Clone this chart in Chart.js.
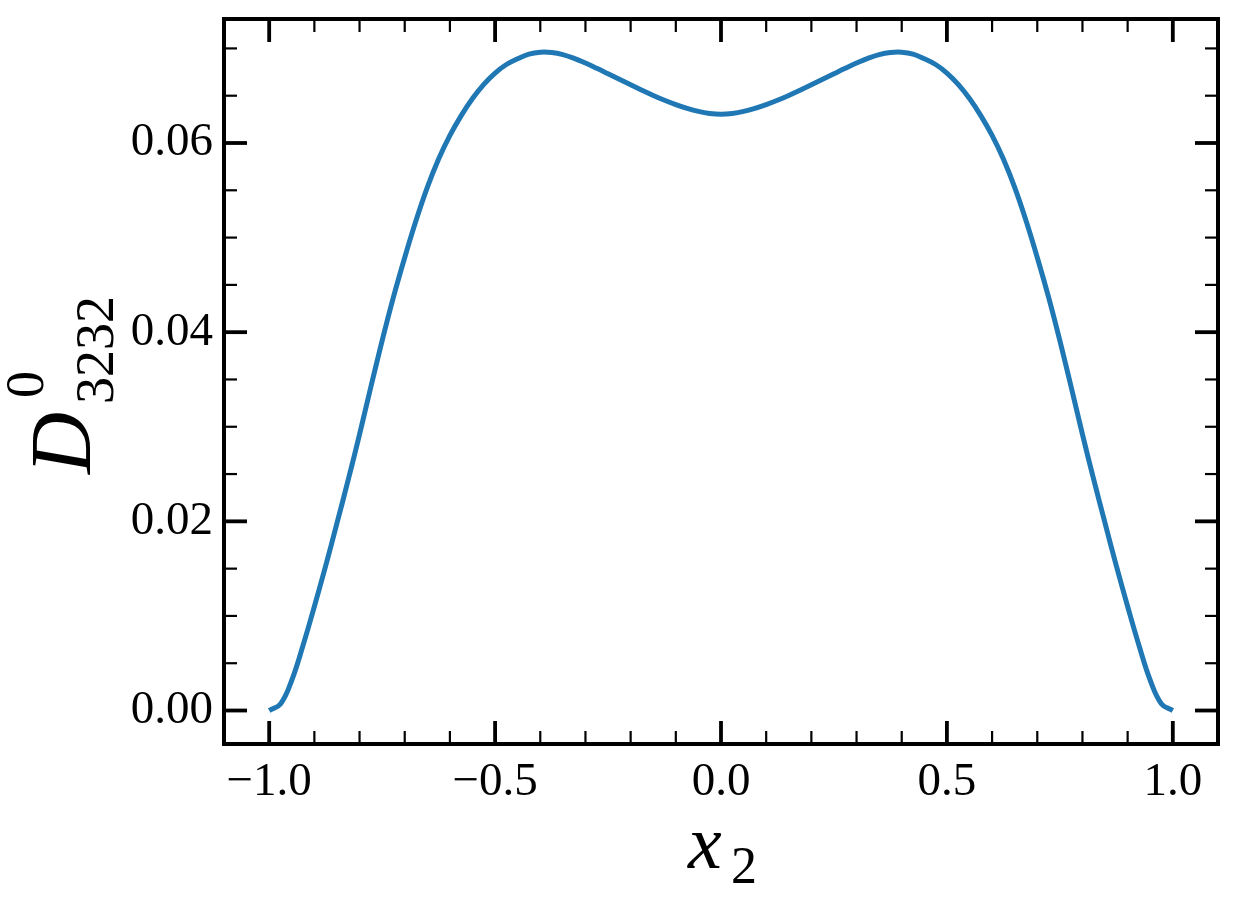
<!DOCTYPE html>
<html>
<head>
<meta charset="utf-8">
<script src="https://cdn.jsdelivr.net/npm/chart.js@4/dist/chart.umd.min.js"></script>
<style>
  html, body { margin: 0; padding: 0; background: #ffffff; }
  #wrap { width: 1237px; height: 908px; }
</style>
</head>
<body>
<div id="wrap"><canvas id="c" width="1237" height="908"></canvas></div>
<script>
// ---- data ----
const xValues = [-1.0, -0.975, -0.95, -0.925, -0.9, -0.875, -0.85, -0.825, -0.8, -0.775,
  -0.75, -0.725, -0.7, -0.675, -0.65, -0.625, -0.6, -0.575, -0.55, -0.525,
  -0.5, -0.475, -0.45, -0.425, -0.4, -0.375, -0.35, -0.325, -0.3, -0.275,
  -0.25, -0.225, -0.2, -0.175, -0.15, -0.125, -0.1, -0.075, -0.05, -0.025,
  0.0, 0.025, 0.05, 0.075, 0.1, 0.125, 0.15, 0.175, 0.2, 0.225,
  0.25, 0.275, 0.3, 0.325, 0.35, 0.375, 0.4, 0.425, 0.45, 0.475,
  0.5, 0.525, 0.55, 0.575, 0.6, 0.625, 0.65, 0.675, 0.7, 0.725,
  0.75, 0.775, 0.8, 0.825, 0.85, 0.875, 0.9, 0.925, 0.95, 0.975, 1.0];
const dValues = [0.0, 0.0007, 0.0032, 0.0069, 0.0110, 0.0153, 0.0198, 0.0244, 0.0292, 0.0342,
  0.0391, 0.0437, 0.0479, 0.0518, 0.0553, 0.0583, 0.0608, 0.0629, 0.0647, 0.0662,
  0.0674, 0.0683, 0.0689, 0.0694, 0.0696, 0.06957, 0.06935, 0.06895, 0.06845, 0.0679,
  0.06732, 0.06673, 0.06615, 0.06558, 0.06503, 0.06452, 0.06406, 0.06366, 0.06334, 0.06313,
  0.06305, 0.06313, 0.06334, 0.06366, 0.06406, 0.06452, 0.06503, 0.06558, 0.06615, 0.06673,
  0.06732, 0.0679, 0.06845, 0.06895, 0.06935, 0.06957, 0.0696, 0.0694, 0.0689, 0.0683,
  0.0674, 0.0662, 0.0647, 0.0629, 0.0608, 0.0583, 0.0553, 0.0518, 0.0479, 0.0437,
  0.0391, 0.0342, 0.0292, 0.0244, 0.0198, 0.0153, 0.0110, 0.0069, 0.0032, 0.0007, 0.0];

const xMajorTicks = [-1.0, -0.5, 0.0, 0.5, 1.0];
const xMinorTicks = [-0.9, -0.8, -0.7, -0.6, -0.4, -0.3, -0.2, -0.1, 0.1, 0.2, 0.3, 0.4, 0.6, 0.7, 0.8, 0.9];
const yMajorTicks = [0.0, 0.02, 0.04, 0.06];
const yMinorTicks = [0.005, 0.01, 0.015, 0.025, 0.03, 0.035, 0.045, 0.05, 0.055, 0.065, 0.07];
const xRange = [-1.1, 1.1];
const yRange = [-0.00354, 0.07311];

const points = xValues.map((x, i) => ({ x: x, y: dValues[i] }));

const SERIF = '"Liberation Serif", "DejaVu Serif", serif';

const framePlugin = {
  id: 'frameTicks',
  afterDatasetsDraw(chart) {
    const ctx = chart.ctx;
    const a = chart.chartArea;
    const xs = chart.scales.x, ys = chart.scales.y;
    ctx.save();
    ctx.strokeStyle = '#000';
    ctx.lineCap = 'butt';
    const majL = 23, minL = 13;
    const drawX = (vals, len, w) => {
      ctx.lineWidth = w;
      vals.forEach(v => {
        const p = xs.getPixelForValue(v);
        ctx.beginPath(); ctx.moveTo(p, a.bottom); ctx.lineTo(p, a.bottom - len); ctx.stroke();
        ctx.beginPath(); ctx.moveTo(p, a.top); ctx.lineTo(p, a.top + len); ctx.stroke();
      });
    };
    const drawY = (vals, len, w) => {
      ctx.lineWidth = w;
      vals.forEach(v => {
        const p = ys.getPixelForValue(v);
        ctx.beginPath(); ctx.moveTo(a.left, p); ctx.lineTo(a.left + len, p); ctx.stroke();
        ctx.beginPath(); ctx.moveTo(a.right, p); ctx.lineTo(a.right - len, p); ctx.stroke();
      });
    };
    drawX(xMinorTicks, minL, 2.2);
    drawY(yMinorTicks, minL, 2.2);
    drawX(xMajorTicks, majL, 3.8);
    drawY(yMajorTicks, majL, 3.8);
    ctx.lineWidth = 4;
    ctx.lineJoin = 'miter';
    ctx.strokeRect(a.left, a.top, a.right - a.left, a.bottom - a.top);

    // x axis title: x_2
    ctx.fillStyle = '#000';
    ctx.textAlign = 'left';
    ctx.textBaseline = 'alphabetic';
    ctx.font = 'italic 76px ' + SERIF;
    ctx.fillText('x', 688, 868);
    ctx.font = '52px ' + SERIF;
    ctx.fillText('2', 731, 883);

    // y axis title: D^0_{3232} rotated
    ctx.save();
    ctx.translate(90, 474);
    ctx.rotate(-Math.PI / 2);
    ctx.font = 'italic 86px ' + SERIF;
    ctx.fillText('D', 0, 0);
    ctx.font = '54px ' + SERIF;
    ctx.fillText('0', 76, -47);
    ctx.fillText('3232', 70, 23);
    ctx.restore();
    ctx.restore();
  }
};

new Chart(document.getElementById('c'), {
  type: 'line',
  data: {
    datasets: [{
      data: points,
      borderColor: '#1f77b4',
      borderWidth: 5,
      pointRadius: 0,
      fill: false,
      tension: 0.4,
      borderCapStyle: 'butt'
    }]
  },
  options: {
    responsive: false,
    animation: false,
    devicePixelRatio: 1,
    layout: { padding: { top: 19, right: 19, left: 0, bottom: 0 } },
    plugins: { legend: { display: false }, tooltip: { enabled: false } },
    scales: {
      x: {
        type: 'linear',
        min: xRange[0], max: xRange[1],
        afterFit(s) { s.height = 164; s.paddingLeft = 0; s.paddingRight = 0; },
        afterBuildTicks(s) { s.ticks = xMajorTicks.map(v => ({ value: v })); },
        grid: { display: false, drawTicks: false },
        border: { display: false },
        ticks: {
          color: '#000',
          font: { family: SERIF, size: 47 },
          padding: 10,
          maxRotation: 0,
          autoSkip: false,
          callback: v => v.toFixed(1).replace('-', '\u2212')
        }
      },
      y: {
        type: 'linear',
        min: yRange[0], max: yRange[1],
        afterFit(s) { s.width = 224; s.paddingTop = 0; s.paddingBottom = 0; },
        afterBuildTicks(s) { s.ticks = yMajorTicks.map(v => ({ value: v })); },
        grid: { display: false, drawTicks: false },
        border: { display: false },
        ticks: {
          color: '#000',
          font: { family: SERIF, size: 47 },
          padding: 11,
          autoSkip: false,
          callback: v => v.toFixed(2)
        }
      }
    }
  },
  plugins: [framePlugin]
});
</script>
</body>
</html>
